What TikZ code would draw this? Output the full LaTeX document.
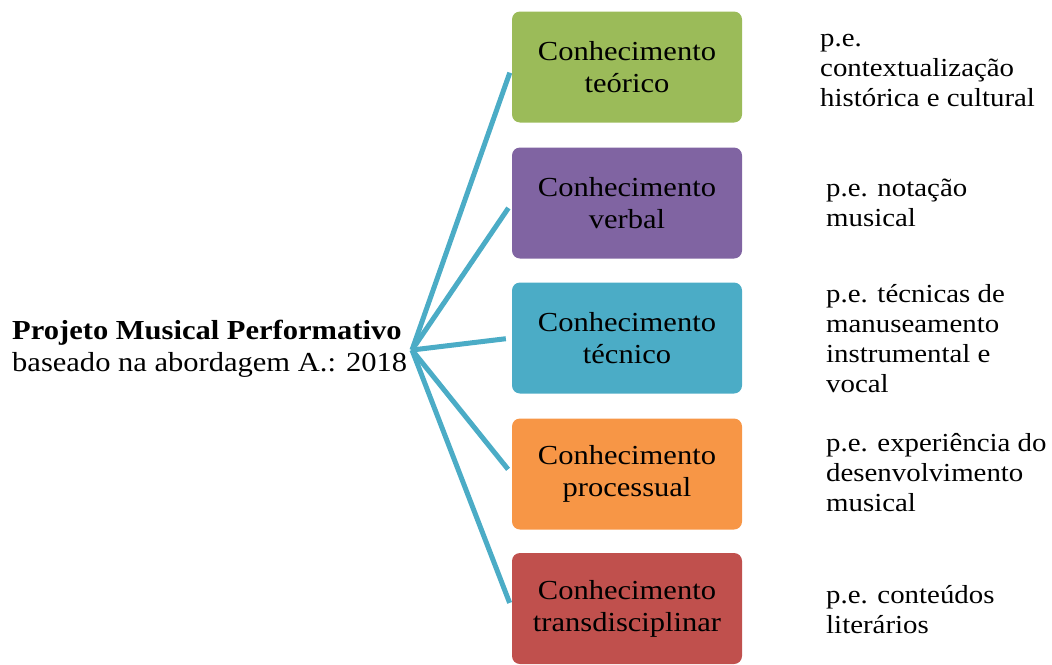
\documentclass[tikz,border=0pt]{standalone}
\usepackage{fontspec}
\setmainfont[FakeStretch=1.11]{Liberation Serif}
\definecolor{boxGreen}{HTML}{9BBB59}
\definecolor{boxPurple}{HTML}{8064A2}
\definecolor{boxTeal}{HTML}{4BACC6}
\definecolor{boxOrange}{HTML}{F79646}
\definecolor{boxRed}{HTML}{C0504D}
\definecolor{linkBlue}{HTML}{4BACC6}

\begin{document}
\begin{tikzpicture}[x = 1pt, y = -1pt]
	\tikzstyle{boxStyle} = [rounded corners = 8pt, minimum width = 230pt, minimum height = 111pt, inner sep = 0pt, align = center, font = \fontsize{27.5}{32}\selectfont]
	\tikzstyle{noteStyle} = [anchor = west, align = left, inner sep = 0pt, font = \fontsize{26}{30}\selectfont]
	\tikzstyle{linkStyle} = [draw = linkBlue, line width = 5pt, shorten >= 6pt]
	\useasboundingbox (0, 0) rectangle (1052, 664);
	\node[anchor = west, align = left, inner sep = 0pt, font = \fontsize{27.5}{32}\selectfont] (project) at (12, 349) {\textbf{Projeto Musical Performativo}\\baseado na abordagem A.: 2018};
	\coordinate (hub) at (412, 350);
	\node[boxStyle, fill = boxGreen] (k1) at (627, 67) {Conhecimento\\teórico};
	\node[boxStyle, fill = boxPurple] (k2) at (627, 203) {Conhecimento\\verbal};
	\node[boxStyle, fill = boxTeal] (k3) at (627, 338) {Conhecimento\\técnico};
	\node[boxStyle, fill = boxOrange] (k4) at (627, 474) {Conhecimento\\processual};
	\node[boxStyle, fill = boxRed] (k5) at (627, 608.5) {Conhecimento\\transdisciplinar};
	\node[noteStyle] (n1) at (820, 70) {p.e.\\contextualização\\histórica e cultural};
	\node[noteStyle] (n2) at (826, 203) {p.e. notação\\musical};
	\node[noteStyle] (n3) at (826, 339) {p.e. técnicas de\\manuseamento\\instrumental e\\vocal};
	\node[noteStyle] (n4) at (826, 473) {p.e. experiência do\\desenvolvimento\\musical};
	\node[noteStyle] (n5) at (826, 610) {p.e. conteúdos\\literários};
	\draw[linkStyle] (hub) -- (k1.west);
	\draw[linkStyle] (hub) -- (k2.west);
	\draw[linkStyle] (hub) -- (k3.west);
	\draw[linkStyle] (hub) -- (k4.west);
	\draw[linkStyle] (hub) -- (k5.west);
\end{tikzpicture}
\end{document}
